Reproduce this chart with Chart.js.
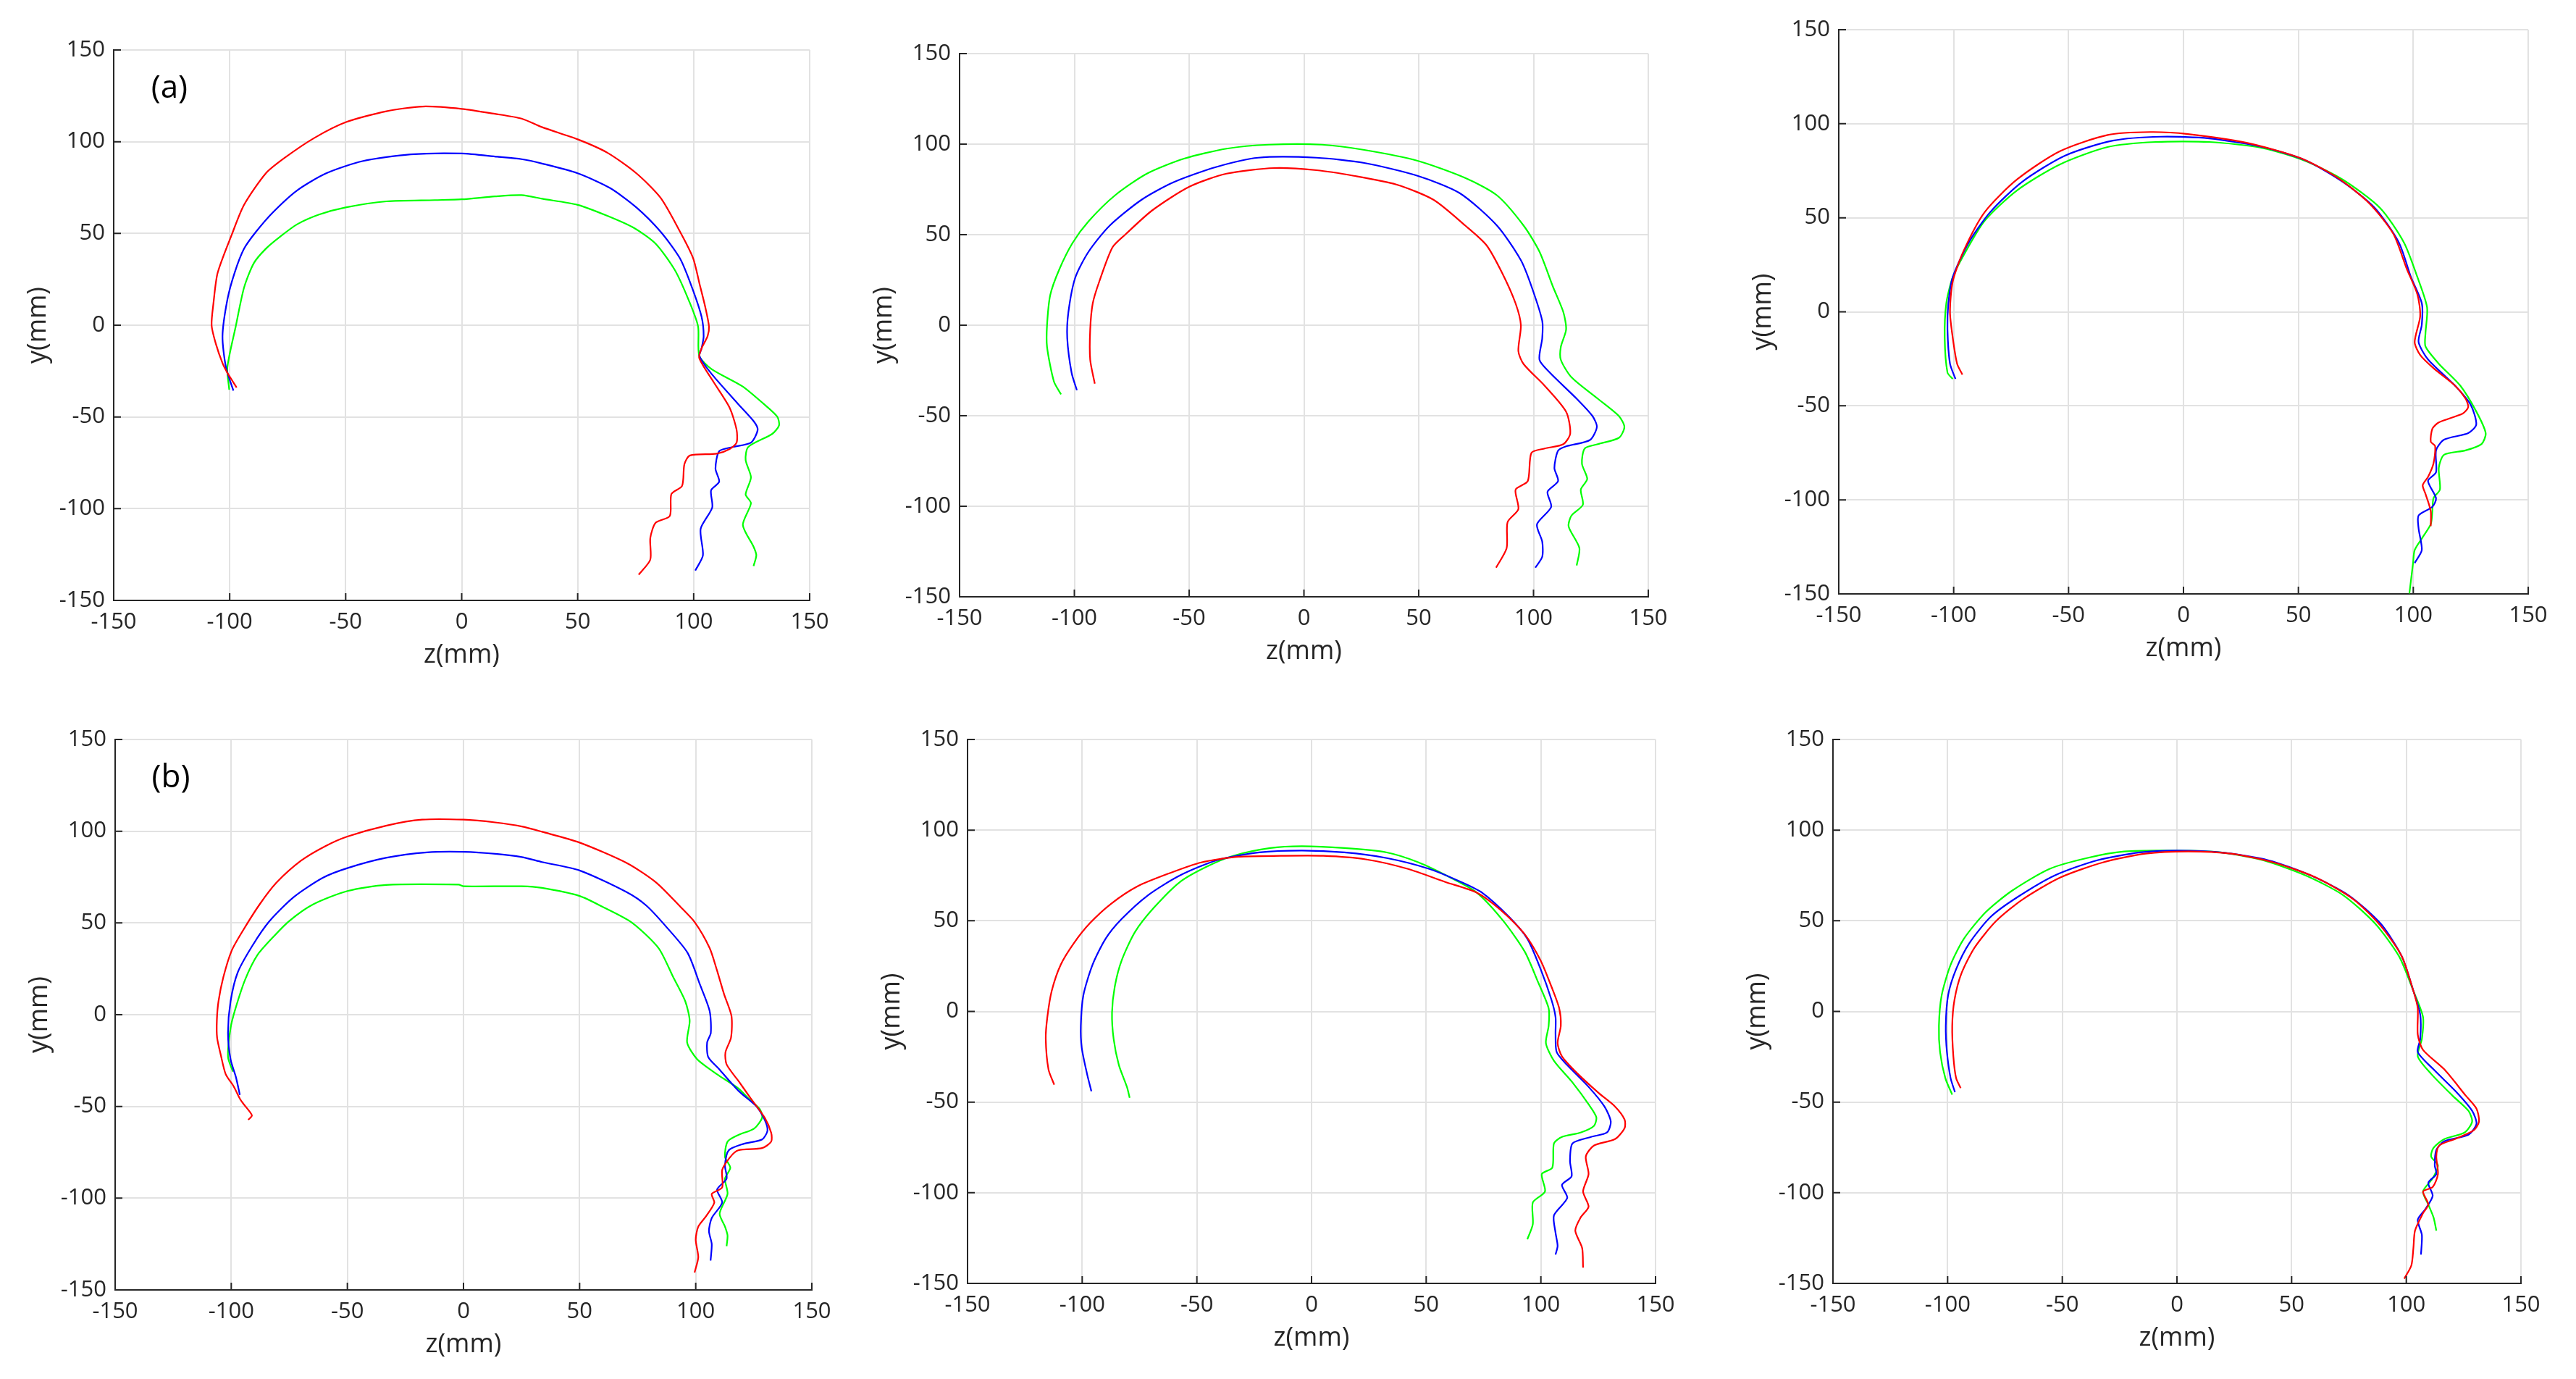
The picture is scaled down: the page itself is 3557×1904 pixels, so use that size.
<!DOCTYPE html>
<html>
<head>
<meta charset="utf-8">
<title>Head profiles</title>
<script src="https://cdn.jsdelivr.net/npm/chart.js@4.4.0/dist/chart.umd.min.js"></script>
<style>
  html, body { margin: 0; padding: 0; background: #fff; }
  #fig { position: relative; width: 3557px; height: 1904px; background: #fff; overflow: hidden; }
  #fig canvas { position: absolute; }
</style>
</head>
<body>
<div id="fig"></div>
<script>
// axis ticks (both axes, every panel)
const tickValues = [-150, -100, -50, 0, 50, 100, 150];

// panel labels
const panelLabels = ['(a)', '', '', '(b)', '', ''];

// curves, [z, y] in mm, back of head -> chin/neck
// row (a), panel 1
const redA1 = [[-97,-34],[-99,-30],[-101,-26],[-103,-21],[-106,-10],[-107.8,0],[-107,12],[-105.2,28.5],[-99,49.7],[-93.8,65.6],[-84.4,82.8],[-76.1,91.4],[-63.6,102],[-50,110.6],[-32.4,116.6],[-16.8,119.2],[0,117.9],[14.3,115.2],[25.8,112.6],[34.7,107.9],[50,101.3],[62.8,94],[75.3,82.8],[85.7,69.5],[94.1,51],[99.8,36.4],[102.4,23.2],[105,9.9],[106.6,-0.7],[106,-6],[103.4,-12.6],[102.4,-17.9],[108.6,-31],[115.5,-45],[118.5,-57],[118.5,-64],[115.5,-67.5],[110,-70],[98.4,-71],[96,-75.8],[95,-87.6],[90.4,-92],[89.7,-104],[83.6,-107.7],[81.3,-116],[81.3,-127.8],[76.3,-136]];
const blueA1 = [[-98.4,-35.7],[-101.6,-23],[-103.1,-6],[-101,13.9],[-97.9,28.5],[-93.8,41.7],[-88.6,51],[-81.3,61.6],[-70.9,73.5],[-58.4,82.8],[-42.8,89.4],[-22,93.1],[0,93.6],[15.4,91.8],[25.8,90.5],[34.7,88.1],[50,82.8],[63.9,74.8],[75.3,64.2],[85.7,51],[94.1,36.4],[99.3,20.5],[103.4,4.6],[104.3,-6],[103.4,-12.6],[102.5,-16.8],[107.5,-26.2],[119,-42.7],[125.8,-52.2],[127.6,-57],[124.7,-64],[116.7,-66.4],[111,-68.7],[109.4,-78.2],[111,-85.3],[107.5,-90],[108,-99.4],[103,-111],[104,-125.4],[100.7,-133.7]];
const greenA1 = [[-100.2,-35.2],[-101,-23],[-97.4,-0.7],[-93.8,20.5],[-89.6,33.8],[-84.4,41.7],[-78.2,48.3],[-70.9,55],[-61.5,60.3],[-50,64.2],[-32.4,67.5],[-11.6,68.2],[0,68.6],[14.3,70.2],[25.8,70.9],[34.7,68.9],[50,65.6],[62.8,59.6],[74.3,53],[83.6,44.4],[92,29.8],[98.2,12.6],[101.9,-0.7],[102.4,-16.6],[107.6,-23.8],[121,-33.3],[130,-42.7],[136,-49.8],[136.8,-54.6],[133.8,-59.3],[123.5,-66.4],[122.4,-73.5],[124.7,-82.9],[122.4,-92.3],[124.7,-97],[121.2,-108.9],[125.8,-120.7],[127,-125.4],[125.8,-131.3]];

// row (a), panel 2
const redA2 = [[-91.1,-32.3],[-93.1,-19.1],[-93.1,-2.4],[-92,12],[-89.2,23.9],[-83.4,43],[-77.7,50.2],[-66.1,63.4],[-49.9,76.5],[-33.7,83.7],[-12.9,86.8],[5.5,85.6],[21.7,82.5],[40.2,77.7],[56.4,69.3],[70.3,55],[79.5,44.2],[86.4,28.7],[92.2,12],[94.5,0],[93.4,-14.3],[95.7,-21.5],[104.9,-33.5],[114.2,-47.8],[116,-59.8],[113,-65.7],[104.9,-68.1],[99.1,-70.5],[97.5,-86.1],[92.2,-90.8],[93.4,-101.6],[88.7,-108.8],[88.3,-123.1],[83.7,-133.9]];
const blueA2 = [[-98.9,-35.9],[-101.2,-26.3],[-103.1,-7.2],[-102.6,7.2],[-99.6,26.3],[-93.8,40.6],[-84.6,55],[-70.7,69.3],[-56.9,78.9],[-38.4,87.3],[-19.9,92.5],[5.5,92.5],[26.3,89.6],[49.5,82.5],[67.9,72.9],[84.1,55],[94.5,35.9],[99.1,21.5],[103.8,2.4],[103.8,-7.2],[102.6,-19.1],[107.2,-26.3],[118.8,-40.6],[125.7,-50.2],[127.6,-56.2],[124.6,-63.4],[114.2,-66.9],[110.7,-69.3],[109.1,-78.9],[110.7,-86.1],[106.1,-92],[107.7,-100.4],[101.5,-110],[103.8,-119.5],[103.8,-127.9],[100.8,-133.9]];
const greenA2 = [[-105.8,-38.2],[-108.9,-31.1],[-111.9,-12],[-111.9,0],[-110.5,16.7],[-106.5,31],[-100.8,45.4],[-93.8,57.4],[-82.3,71.7],[-68.4,83.7],[-52.2,92],[-33.7,97.5],[-15.3,99.7],[7.9,99.7],[26.3,96.8],[49.5,90.8],[70.3,81.3],[84.1,71.7],[95.7,55],[102.6,40.6],[108.4,21.5],[113,7.2],[114.2,-2.4],[111.9,-12],[111.9,-19.1],[116.5,-28.7],[128,-40.6],[137.2,-50.2],[139.6,-56.2],[137.2,-62.2],[128,-65.7],[122.3,-68.1],[121.1,-76.5],[123.4,-84.9],[120.6,-90.8],[121.5,-99.2],[116.5,-105.2],[115.3,-111.2],[120,-123.1],[118.8,-132.7]];

// row (a), panel 3
const redA3 = [[-96.2,-33.4],[-98.5,-27.6],[-100.4,-13.8],[-101.6,0],[-100.4,16.1],[-95.7,32.3],[-86.5,53],[-72.5,70.3],[-53.9,85.3],[-33,94],[-14.4,95.6],[1.9,94.5],[27.4,89.9],[50.7,81.8],[66.9,71.4],[80.9,57.6],[91.3,41.5],[97.1,23],[101.8,9.2],[103,-2.3],[100.6,-16.1],[103,-23],[108.8,-30],[118.1,-39.2],[122.7,-46.1],[123.9,-50.7],[121.5,-54.1],[111.1,-58.8],[108.3,-62.2],[107.6,-69.1],[109.5,-71.4],[108.8,-80.6],[106.5,-87.6],[104.1,-92.2],[105.3,-96.8],[107.6,-106],[107.6,-114]];
const blueA3 = [[-99.2,-35.7],[-101.6,-27.6],[-102.7,-9.2],[-102.3,4.6],[-100.4,18.4],[-93.4,36.9],[-84.1,53],[-70.2,69.1],[-51.6,83],[-30.7,91],[-9.8,93.1],[11.2,92.2],[34.4,87.6],[53,80.6],[69.3,69.1],[83.2,55.3],[93.7,36.9],[99,18.4],[103.7,4.6],[103.7,-6.9],[102.3,-16.1],[106.4,-25.3],[118.1,-39.2],[125,-49.5],[127.4,-59.9],[123.9,-64.5],[113.4,-68],[109.9,-73.7],[109.9,-85.3],[106.4,-89.9],[109.9,-99.1],[108.3,-103.7],[102.3,-108.3],[102.3,-115.2],[103.7,-126.7],[100.6,-133.6]];
const greenA3 = [[-100.4,-35.7],[-102.7,-32.3],[-103.9,-13.8],[-103.2,4.6],[-100.4,18.4],[-95.7,30],[-86.5,48.4],[-72.5,64.5],[-53.9,78.3],[-33,87.6],[-12.1,90.3],[11.2,90.3],[34.4,87.1],[53,80.2],[69.3,70.3],[85.5,55.3],[95.9,36.9],[101.8,18.4],[106,2.3],[105.3,-11.5],[105.3,-18.4],[111.1,-27.6],[120.4,-39.2],[127.4,-53],[131.5,-64.5],[129.7,-70.3],[122.7,-73.7],[113.4,-76],[111.1,-82.9],[111.6,-94.5],[108.8,-99.1],[108.3,-106],[107.6,-112.9],[104.1,-119.8],[100.6,-126.7],[99.9,-133.6],[98.3,-149.8]];

// row (b), panel 1
const redB1 = [[-92.7,-57.3],[-91.1,-54.9],[-94.5,-49],[-96.1,-46.2],[-99,-39],[-102.4,-32.4],[-104.5,-22],[-106.1,-12.5],[-106.2,-3],[-105.5,7.3],[-103.4,20.5],[-99.8,35],[-95.1,45.6],[-87.8,60.1],[-80.5,72],[-70,83.9],[-59.6,91.8],[-50,97.1],[-33.4,103],[-17.8,106.3],[0,106.3],[13.6,104.8],[25.1,102.6],[33.8,99.7],[50,93.8],[70.4,82.6],[83,72],[93.4,58.8],[99.7,50.2],[106,36.3],[109.1,24.4],[112.2,11.2],[115.4,-0.7],[115.2,-12.5],[112.8,-20.5],[113.3,-27.1],[118.5,-36.3],[123.7,-45.6],[129.7,-56.1],[132.5,-64.4],[132.5,-69.2],[128.6,-72.7],[118.3,-73.9],[114.9,-77.5],[111.4,-84.6],[111.4,-94.1],[106.9,-97.7],[108,-102.4],[104.6,-109.6],[101.1,-115.5],[100,-122.7],[101.1,-132.2],[99.5,-140.5]];
const blueB1 = [[-96.3,-43.7],[-98,-34],[-100.3,-24.4],[-101.4,-9.9],[-100.3,7.3],[-97.2,23.1],[-90.9,37.6],[-83.6,50.9],[-73.1,64.1],[-60.6,74.6],[-50,79.9],[-33.4,85.5],[-15.7,88.5],[0,88.8],[14.6,87.6],[25.1,85.9],[33.8,83.2],[50,78.6],[70.4,66.7],[78.8,59.4],[87.1,48.2],[96.5,33.7],[101.8,16.5],[106,2],[106.5,-9.9],[104.9,-15.2],[105.4,-23.1],[110.1,-29.7],[118.5,-41.6],[126.3,-50.2],[129.7,-57.3],[130.9,-63.2],[128.6,-68],[120.6,-70.4],[114.2,-73.9],[112.6,-82.2],[113.3,-89.4],[109.2,-95.3],[111.4,-102.4],[106.9,-110.8],[105.7,-117.9],[106.9,-125],[106.4,-134]];
const greenB1 = [[-99.3,-31],[-101.4,-23.1],[-100.3,-7.3],[-98.2,3.3],[-94,19.2],[-88.8,32.4],[-82.5,41.6],[-75.2,50.9],[-64.8,60.1],[-50,67.4],[-33.4,70.7],[-2.1,70.9],[0,70],[25.1,70],[33.8,69.1],[50,64.7],[59.9,58.8],[72.5,50.2],[84,36.3],[90.3,20.5],[95.5,7.3],[97.4,-3.3],[96.3,-15.2],[100.7,-24.4],[109.1,-32.4],[118.5,-40.3],[122.7,-45.6],[127.5,-51.3],[128.6,-56.1],[125.2,-62],[118.3,-65.6],[113.7,-69.2],[112.6,-77.5],[114.9,-83.4],[112.6,-89.4],[113.7,-97.7],[110.3,-108.4],[112.6,-115.5],[113.7,-120.3],[113.3,-126.2]];

// row (b), panel 2
const redB2 = [[-112.2,-40.4],[-114.7,-32],[-115.9,-15.1],[-115.2,-3.1],[-113.3,11.3],[-109.4,25.7],[-103.6,37.7],[-96.7,48.6],[-87.4,59.4],[-75.9,69],[-62,76.2],[-48.1,82.2],[-31.9,85.3],[-13.4,85.8],[5.1,85.8],[23.6,83.9],[42.1,78.6],[58.3,71.4],[72.2,65.4],[83.7,54.6],[93,42.5],[99.9,28.1],[104.6,13.7],[108,1.7],[108.7,-7.9],[107.3,-17.5],[109.2,-24.8],[116.1,-34.4],[125.4,-45.2],[132.3,-52.4],[136.5,-59.6],[136.5,-64.4],[132.3,-70.4],[123.1,-74],[119.6,-80],[120.8,-89.7],[118.4,-99.3],[120.8,-107.7],[117.3,-113.7],[115,-120.9],[118,-130.5],[118.4,-141.3]];
const blueB2 = [[-96,-44],[-97.9,-34.4],[-100.2,-20],[-100.6,-7.9],[-99.5,8.9],[-95.5,25.7],[-89.8,40.1],[-82.8,51],[-71.2,64.2],[-57.4,75],[-41.2,83.4],[-22.7,87.7],[-4.2,88.7],[14.3,87.7],[32.8,84.6],[51.4,78.6],[65.2,71.4],[74.5,65.4],[86.1,52.2],[94.1,40.1],[99.9,23.3],[104.6,6.5],[106.4,-3.1],[106.4,-12.7],[106.9,-22.4],[111.5,-29.6],[120.8,-41.6],[127.7,-52.4],[130.5,-60.8],[128.8,-66.8],[121.9,-69.2],[113.8,-72.8],[112.7,-82.5],[113.4,-90.9],[109.2,-95.7],[111.5,-102.9],[105.7,-112.5],[106.4,-122.1],[107.3,-129.3],[106.4,-134.1]];
const greenB2 = [[-79.3,-47.6],[-80.5,-41.6],[-84,-29.6],[-86.3,-15.1],[-87,-0.7],[-85.8,13.7],[-82.8,28.1],[-77,43.8],[-68.9,57],[-57.4,71.4],[-45.8,79.8],[-34.2,85.8],[-18,90.1],[-4.2,91.1],[14.3,90.1],[32.8,87.7],[46.7,82.2],[60.6,73.8],[72.2,65.4],[83.7,49.8],[93,32.9],[98.8,16.1],[103.4,1.7],[103.4,-7.9],[102.2,-17.5],[105.7,-27.2],[113.8,-39.2],[120.8,-51.2],[124.2,-58.4],[123.1,-63.2],[117.3,-66.8],[109.2,-69.2],[105.7,-72.8],[105,-86.1],[100.4,-89.7],[101.8,-99.3],[96.5,-105.3],[96.5,-117.3],[94.1,-125.7]];

// row (b), panel 3
const redB3 = [[-94.3,-42.3],[-96.3,-36.8],[-97.5,-24.8],[-98,-7.9],[-97,6.5],[-94,20.9],[-88.2,35.3],[-78.9,49.8],[-67.3,61.8],[-51,73.8],[-32.3,82.2],[-13.7,87],[4.9,88.2],[23.5,87],[42.1,82.2],[60.7,73.8],[77,61.8],[88.7,47.4],[98,30.5],[103.1,11.3],[105,1.7],[105,-12.7],[107.3,-21.2],[116.6,-32],[125.9,-46.4],[130.6,-53.6],[131.7,-60.8],[129.4,-65.6],[121.2,-70.4],[114.3,-74],[113.1,-80],[113.8,-89.7],[111.5,-96.9],[107.3,-99.3],[109.6,-106.5],[107.3,-111.3],[103.8,-120.9],[103.1,-130.5],[102.2,-140.1],[99.1,-147.4]];
const blueB3 = [[-96.8,-44.5],[-98.7,-36.8],[-100.3,-22.4],[-100.8,-7.9],[-99.8,8.9],[-96.3,23.3],[-90.5,37.7],[-81.2,52.2],[-69.6,63],[-53.3,75],[-34.7,83.4],[-16.1,87.7],[0,88.7],[18.9,87.7],[39.8,83.4],[58.4,75],[74.7,64.2],[88.7,48.6],[98,30.5],[103.1,11.3],[106.1,-1.9],[106.1,-15.1],[105,-22.4],[111.9,-32],[122.4,-45.2],[128.7,-54.8],[130.6,-62],[127.1,-68],[116.6,-71.6],[113.1,-76.4],[112.4,-84.9],[113.1,-89.7],[109.6,-94.5],[111.5,-101.7],[108.4,-108.9],[105,-114.9],[106.8,-123.3],[106.4,-134.1]];
const greenB3 = [[-98,-45.9],[-101,-36.8],[-103.3,-22.4],[-103.8,-7.9],[-102.6,8.9],[-98.7,25.7],[-92.9,40.1],[-83.5,54.6],[-71.9,66.6],[-55.6,78.6],[-39.3,84.6],[-23,88.2],[0,88.7],[18.9,87.7],[37.5,83.4],[56.1,75],[72.4,64.2],[86.3,48.6],[96.8,30.5],[103.1,11.3],[107.3,-3.1],[106.8,-15.1],[105,-24.8],[110.8,-34.4],[120.1,-46.4],[127.1,-54.8],[128.7,-60.8],[125.4,-66.8],[116.6,-70.4],[111.9,-75.2],[110.8,-80],[113.8,-84.9],[111.5,-92.1],[107.3,-99.3],[109.6,-106.5],[111.9,-113.7],[113.1,-120.9]];

const panelCurves = [
  [redA1, blueA1, greenA1],
  [redA2, blueA2, greenA2],
  [redA3, blueA3, greenA3],
  [redB1, blueB1, greenB1],
  [redB2, blueB2, greenB2],
  [redB3, blueB3, greenB3]
];
const curveColors = ['#ff0000', '#0000ff', '#00ff00'];

// plot-area boxes on the page (left, right, top, bottom)
const boxes = [
  { L: 157,  R: 1118, T: 69,   B: 829 },
  { L: 1325, R: 2276, T: 74,   B: 824 },
  { L: 2539, R: 3491, T: 41,   B: 820 },
  { L: 159,  R: 1121, T: 1021, B: 1781 },
  { L: 1336, R: 2286, T: 1021, B: 1772 },
  { L: 2531, R: 3481, T: 1021, B: 1772 }
];

const Y_AXIS_W = 130, X_AXIS_H = 101, PAD_TOP = 36, PAD_RIGHT = 50;
const textColor = '#262626';
const fontFamily = '"Open Sans", "Noto Sans", sans-serif';

// MATLAB-style ticks pointing into the plot
const inwardTicks = {
  id: 'inwardTicks',
  afterDraw(chart) {
    const { ctx, chartArea: a, scales: { x, y } } = chart;
    ctx.save();
    ctx.strokeStyle = textColor;
    ctx.lineWidth = 2;
    ctx.beginPath();
    x.ticks.forEach(t => {
      const px = x.getPixelForValue(t.value);
      ctx.moveTo(px, a.bottom);
      ctx.lineTo(px, a.bottom - 10);
    });
    y.ticks.forEach(t => {
      const py = y.getPixelForValue(t.value);
      ctx.moveTo(a.left, py);
      ctx.lineTo(a.left + 10, py);
    });
    ctx.stroke();
    ctx.restore();
  }
};

const panelLabel = {
  id: 'panelLabel',
  afterDraw(chart, args, opts) {
    if (!opts.text) return;
    const { ctx, scales: { x, y } } = chart;
    ctx.save();
    ctx.fillStyle = '#000';
    ctx.font = '44px ' + fontFamily;
    ctx.textAlign = 'center';
    ctx.textBaseline = 'middle';
    ctx.fillText(opts.text, x.getPixelForValue(-126), y.getPixelForValue(129));
    ctx.restore();
  }
};

const fig = document.getElementById('fig');

boxes.forEach((b, i) => {
  const canvas = document.createElement('canvas');
  const w = Y_AXIS_W + (b.R - b.L) + PAD_RIGHT;
  const h = PAD_TOP + (b.B - b.T) + X_AXIS_H;
  canvas.width = w;
  canvas.height = h;
  canvas.style.width = w + 'px';
  canvas.style.height = h + 'px';
  canvas.style.left = (b.L - Y_AXIS_W) + 'px';
  canvas.style.top = (b.T - PAD_TOP) + 'px';
  fig.appendChild(canvas);

  const datasets = panelCurves[i].map((pts, k) => ({
    data: pts.map(([z, y]) => ({ x: z, y: y })),
    showLine: true,
    borderColor: curveColors[k],
    borderWidth: 2.2,
    pointRadius: 0,
    tension: 0.25,
    fill: false
  }));

  const axis = (title) => ({
    type: 'linear',
    min: tickValues[0],
    max: tickValues[tickValues.length - 1],
    afterBuildTicks: s => { s.ticks = tickValues.map(v => ({ value: v })); },
    ticks: { color: textColor, font: { family: fontFamily, size: 31 }, padding: 12 },
    grid: { color: '#e2e2e2', lineWidth: 2, drawTicks: false },
    border: { color: textColor, width: 2 },
    title: { display: true, text: title, color: textColor, font: { family: fontFamily, size: 36 } }
  });

  const xAxis = axis('z(mm)');
  xAxis.afterFit = s => { s.height = X_AXIS_H; };
  xAxis.ticks.maxRotation = 0;
  const yAxis = axis('y(mm)');
  yAxis.afterFit = s => { s.width = Y_AXIS_W; };

  new Chart(canvas, {
    type: 'scatter',
    data: { datasets },
    options: {
      responsive: false,
      animation: false,
      devicePixelRatio: 1,
      layout: { padding: { top: PAD_TOP, right: PAD_RIGHT, left: 0, bottom: 0 } },
      plugins: {
        legend: { display: false },
        tooltip: { enabled: false },
        panelLabel: { text: panelLabels[i] }
      },
      scales: { x: xAxis, y: yAxis }
    },
    plugins: [inwardTicks, panelLabel]
  });
});
</script>
</body>
</html>
